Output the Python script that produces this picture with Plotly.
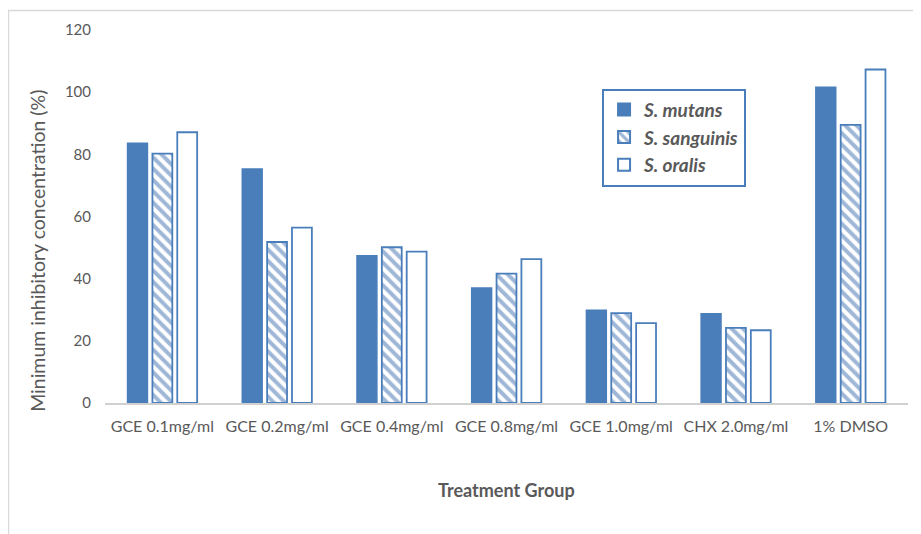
import plotly.graph_objects as go

categories = ["GCE 0.1mg/ml", "GCE 0.2mg/ml", "GCE 0.4mg/ml", "GCE 0.8mg/ml",
              "GCE 1.0mg/ml", "CHX 2.0mg/ml", "1% DMSO"]
s_mutans = [83.6, 75.3, 47.4, 37.0, 29.8, 28.7, 101.6]
s_sanguinis = [80.2, 51.8, 50.1, 41.6, 28.9, 24.2, 89.5]
s_oralis = [87.1, 56.4, 48.7, 46.3, 25.7, 23.4, 107.3]
y_ticks = [0, 20, 40, 60, 80, 100, 120]

blue = "#4A7EBB"
grey_txt = "#595959"
font_family = "Lato, Open Sans, sans-serif"

fig = go.Figure()
fig.add_trace(go.Bar(
    x=categories, y=s_mutans, name="<b><i>S. mutans</i></b>", legendgroup="a",
    marker=dict(color=blue, line=dict(color=blue, width=1.5)),
))
fig.add_trace(go.Bar(
    x=categories, y=s_sanguinis, name="<b><i>S. sanguinis</i></b>", legendgroup="b",
    marker=dict(color="white", line=dict(color=blue, width=1.8),
                pattern=dict(shape="\\", fgcolor="#3F6FB0", bgcolor="white",
                             size=8, solidity=0.5)),
))
fig.add_trace(go.Bar(
    x=categories, y=s_oralis, name="<b><i>S. oralis</i></b>", legendgroup="c",
    marker=dict(color="white", line=dict(color=blue, width=1.8)),
))

fig.update_layout(
    width=913, height=526,
    paper_bgcolor="white", plot_bgcolor="white",
    margin=dict(l=97, r=13, t=20, b=131),
    barmode="group", bargap=0.35, bargroupgap=0.2,
    font=dict(family=font_family, color=grey_txt, size=15),
    showlegend=True,
    legend=dict(x=0.619, y=0.843, xanchor="left", yanchor="top",
                bordercolor=blue, borderwidth=2, bgcolor="white",
                font=dict(size=19, color=grey_txt),
                itemsizing="constant", tracegroupgap=11,
                entrywidth=135, entrywidthmode="pixels",
                traceorder="normal"),
    xaxis=dict(
        showline=True, linecolor="#D0D0D0", linewidth=1.5,
        ticks="", showgrid=False, ticklabelstandoff=8,
        tickfont=dict(size=16, color=grey_txt),
    ),
    yaxis=dict(
        range=[0, 120], tickvals=y_ticks, showgrid=False, zeroline=False,
        showline=False, ticks="", ticklabelstandoff=13,
        tickfont=dict(size=15, color=grey_txt),
    ),
    annotations=[
        dict(text="Minimum inhibitory concentration (%)", textangle=-90,
             xref="paper", yref="paper", x=-0.0834, y=0.408,
             xanchor="center", yanchor="middle", showarrow=False,
             font=dict(size=19.5, color=grey_txt)),
        dict(text="<b>Treatment Group</b>",
             xref="paper", yref="paper", x=0.5, y=-0.232,
             xanchor="center", yanchor="middle", showarrow=False,
             font=dict(size=18, color=grey_txt)),
    ],
    shapes=[dict(type="rect", xref="paper", yref="paper",
                 x0=-0.1202, x1=1.05, y0=-0.5, y1=1.052,
                 line=dict(color="#D9D9D9", width=1.5), layer="below")],
)

fig.write_html("out.html")
